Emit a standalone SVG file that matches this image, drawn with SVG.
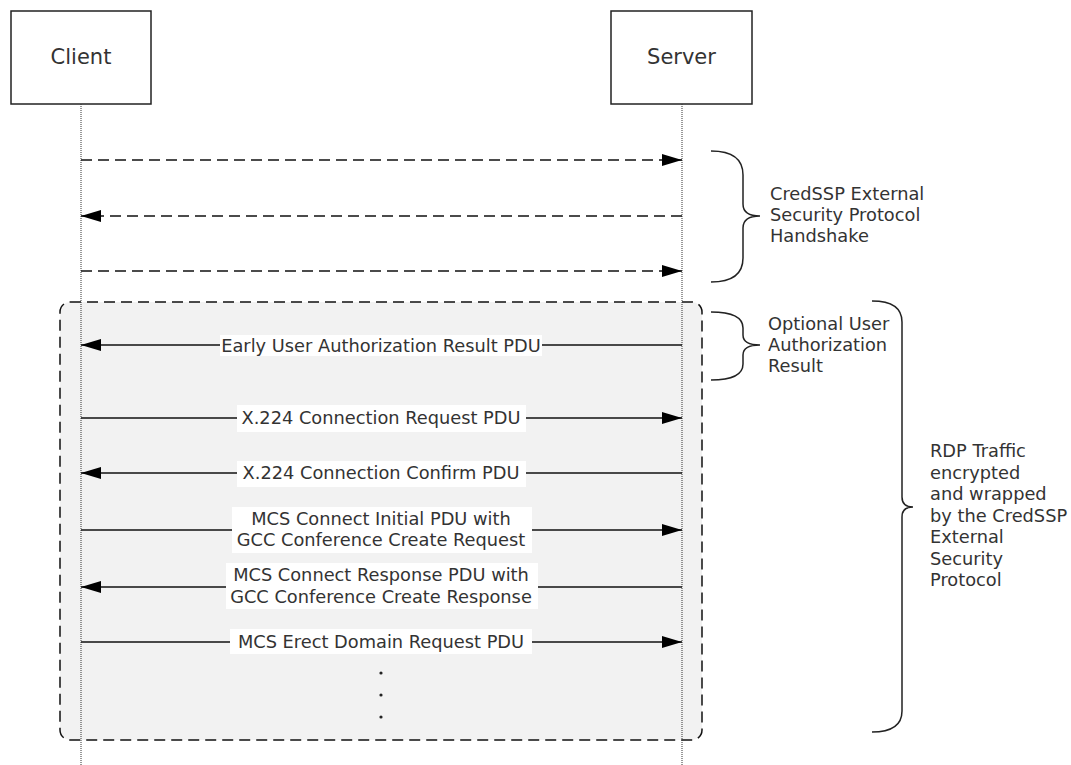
<svg xmlns="http://www.w3.org/2000/svg" width="1071" height="765" viewBox="0 0 1071 765">
<style>
  text { font-family: "DejaVu Sans", Verdana, sans-serif; fill: #333; }
  .actor { font-size: 21px; text-anchor: middle; }
  .lbl { font-size: 17.8px; text-anchor: middle; }
  .note { font-size: 17.8px; }
  .box { fill: #fff; stroke: #222; stroke-width: 1.5; }
  .life { stroke: #333; stroke-width: 1; stroke-dasharray: 1 1; fill: none; }
  .msg { stroke: #111; stroke-width: 1.5; fill: none; }
  .dash { stroke: #111; stroke-width: 1.5; fill: none; stroke-dasharray: 11 6; }
  .bg { fill: #fff; }
  .brace { fill: none; stroke: #222; stroke-width: 1.5; }
</style>
<defs>
  <marker id="ah" viewBox="0 0 20 12" refX="20" refY="6" markerWidth="20" markerHeight="12" markerUnits="userSpaceOnUse" orient="auto">
    <path d="M0,0 L20,6 L0,12 Z" fill="#000"/>
  </marker>
</defs>

<g id="region">
  <rect x="60" y="302" width="642" height="438" rx="10" ry="10" fill="#f2f2f2" stroke="#111" stroke-width="1.5" stroke-dasharray="11 6"/>
</g>

<g id="client">
  <rect class="box" x="11" y="11" width="140" height="93"/>
  <text class="actor" x="81" y="64">Client</text>
</g>
<g id="server">
  <rect class="box" x="611" y="11" width="141" height="93"/>
  <text class="actor" x="681.5" y="64">Server</text>
</g>

<g id="lifelines">
  <line class="life" x1="81" y1="104" x2="81" y2="765"/>
  <line class="life" x1="682" y1="104" x2="682" y2="765"/>
</g>

<g id="connectors">
  <line class="dash" x1="81" y1="160" x2="682" y2="160" marker-end="url(#ah)"/>
  <line class="dash" x1="682" y1="216" x2="81" y2="216" marker-end="url(#ah)"/>
  <line class="dash" x1="81" y1="271" x2="682" y2="271" marker-end="url(#ah)"/>

  <line class="msg" x1="682" y1="345" x2="81" y2="345" marker-end="url(#ah)"/>
  <line class="msg" x1="81" y1="418" x2="682" y2="418" marker-end="url(#ah)"/>
  <line class="msg" x1="682" y1="473" x2="81" y2="473" marker-end="url(#ah)"/>
  <line class="msg" x1="81" y1="530" x2="682" y2="530" marker-end="url(#ah)"/>
  <line class="msg" x1="682" y1="587" x2="81" y2="587" marker-end="url(#ah)"/>
  <line class="msg" x1="81" y1="642" x2="682" y2="642" marker-end="url(#ah)"/>
</g>

<g id="labels">
  <rect class="bg" x="220" y="335" width="322" height="21"/>
  <text class="lbl" x="381" y="351.5">Early User Authorization Result PDU</text>

  <rect class="bg" x="237" y="405" width="289" height="27"/>
  <text class="lbl" x="381" y="424">X.224 Connection Request PDU</text>

  <rect class="bg" x="237" y="461" width="289" height="26"/>
  <text class="lbl" x="381" y="479">X.224 Connection Confirm PDU</text>

  <rect class="bg" x="232" y="507" width="300" height="46"/>
  <text class="lbl" x="381" y="524.5">MCS Connect Initial PDU with</text>
  <text class="lbl" x="381" y="546">GCC Conference Create Request</text>

  <rect class="bg" x="226" y="563" width="312" height="46"/>
  <text class="lbl" x="381" y="581">MCS Connect Response PDU with</text>
  <text class="lbl" x="381" y="602.5">GCC Conference Create Response</text>

  <rect class="bg" x="230" y="629" width="302" height="25"/>
  <text class="lbl" x="381" y="648">MCS Erect Domain Request PDU</text>
</g>

<g id="ellipsis" fill="#222">
  <circle cx="381" cy="673" r="1.6"/>
  <circle cx="381" cy="695" r="1.6"/>
  <circle cx="381" cy="717" r="1.6"/>
</g>

<g id="brace-handshake">
  <path class="brace" d="M711,151 Q743,151 743,175 L743,204 Q743,216 760,216 Q743,216 743,228 L743,258 Q743,282 711,282"/>
  <text class="note" x="770" y="200">CredSSP External</text>
  <text class="note" x="770" y="221">Security Protocol</text>
  <text class="note" x="770" y="242">Handshake</text>
</g>

<g id="brace-optional">
  <path class="brace" d="M711,312 Q743,312 743,328 L743,335 Q743,345 760,345 Q743,345 743,355 L743,364 Q743,380 711,380"/>
  <text class="note" x="768" y="330">Optional User</text>
  <text class="note" x="768" y="351">Authorization</text>
  <text class="note" x="768" y="372">Result</text>
</g>

<g id="brace-rdp">
  <path class="brace" d="M872,301 Q902,301 902,322 L902,497 Q902,507 913,507 Q902,507 902,517 L902,711 Q902,732 872,732"/>
  <text class="note" x="930" y="457">RDP Traffic</text>
  <text class="note" x="930" y="478.5">encrypted</text>
  <text class="note" x="930" y="500">and wrapped</text>
  <text class="note" x="930" y="521.5">by the CredSSP</text>
  <text class="note" x="930" y="543">External</text>
  <text class="note" x="930" y="564.5">Security</text>
  <text class="note" x="930" y="586">Protocol</text>
</g>
</svg>
